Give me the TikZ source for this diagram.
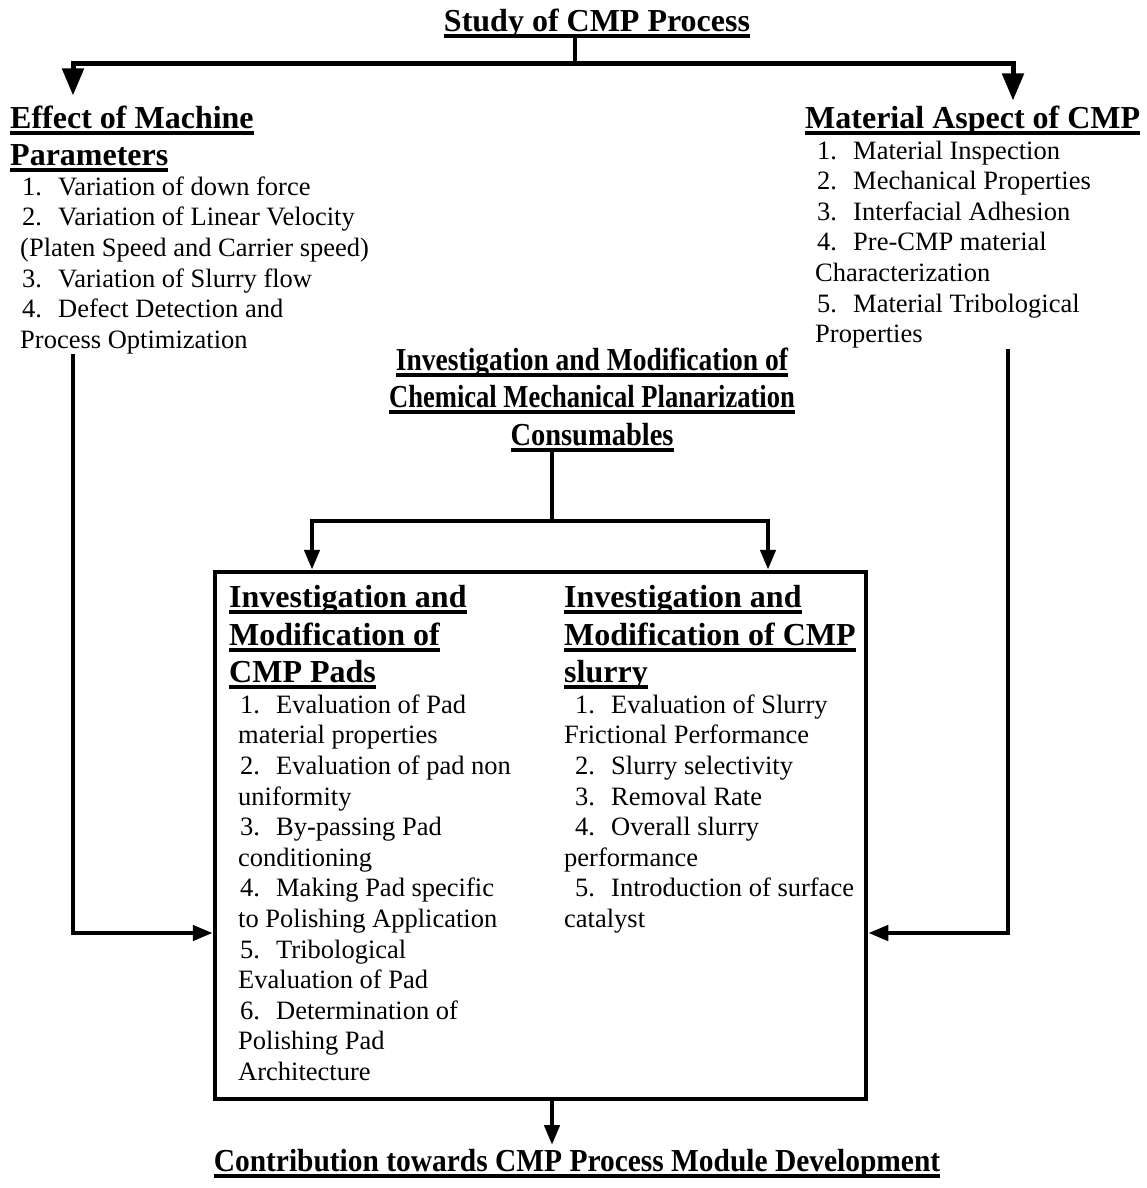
\documentclass[tikz,border=0pt]{standalone}
\usepackage{fontspec}
\setmainfont{Liberation Serif}
\usetikzlibrary{arrows.meta}

\newcommand{\headul}[1]{\setbox0\hbox{#1}\rlap{\rule[-0.2em]{\wd0}{0.12em}}\box0}
\newcommand{\nm}[1]{\makebox[36pt][l]{#1}}
\newcommand{\narrow}[2][0.85]{\scalebox{#1}[1]{\headul{#2}}}

\tikzset{
    heading/.style={font=\fontsize{32}{37.5}\selectfont\bfseries, align=left, inner sep=0pt, anchor=north west},
    items/.style={font=\fontsize{26.5}{30.6}\selectfont, align=left, inner sep=0pt, anchor=north west},
    wire/.style={line width=4.5pt},
    link/.style={line width=4.5pt, -{Triangle[width=15pt,length=20pt]}},
    bigtip/.style={line width=5pt, -{Triangle[width=21pt,length=27pt]}},
}

\begin{document}
\begin{tikzpicture}[x=1pt, y=-1pt]
    \useasboundingbox (0,0) rectangle (1147,1188);

    % headings
    \node[heading, anchor=north] (title) at (597,8.5) {\headul{Study of CMP Process}};
    \node[heading] (effect) at (10,105.5) {\headul{Effect of Machine}\\\headul{Parameters}};
    \node[heading] (material) at (805,105.5) {\headul{Material Aspect of CMP}};
    \node[heading, anchor=north, align=center] (consum) at (592,347.5)
        {\narrow[0.86]{Investigation and Modification of}\\\narrow[0.83]{Chemical Mechanical Planarization}\\\narrow[0.89]{Consumables}};

    % lists
    \node[items] (machine) at (20,176.5) {%
        \hspace*{2pt}\nm{1.}Variation of down force\\
        \hspace*{2pt}\nm{2.}Variation of Linear Velocity\\
        (Platen Speed and Carrier speed)\\
        \hspace*{2pt}\nm{3.}Variation of Slurry flow\\
        \hspace*{2pt}\nm{4.}Defect Detection and\\
        Process Optimization};
    \node[items] (matlist) at (815,140.5) {%
        \hspace*{2pt}\nm{1.}Material Inspection\\
        \hspace*{2pt}\nm{2.}Mechanical Properties\\
        \hspace*{2pt}\nm{3.}Interfacial Adhesion\\
        \hspace*{2pt}\nm{4.}Pre-CMP material\\
        Characterization\\
        \hspace*{2pt}\nm{5.}Material Tribological\\
        Properties};

    % consumables box
    \node[draw, line width=4.5pt, minimum width=651pt, minimum height=527pt, inner sep=0pt] (cmpbox) at (540.5,835.5) {};
    \node[heading] (pads) at (229,585.5) {\headul{Investigation and}\\\headul{Modification of}\\\headul{CMP Pads}};
    \node[heading] (slurry) at (564,585.5) {\headul{Investigation and}\\\headul{Modification of CMP}\\\headul{slurry}};
    \node[items] (padlist) at (238,694.5) {%
        \hspace*{2pt}\nm{1.}Evaluation of Pad\\
        material properties\\
        \hspace*{2pt}\nm{2.}Evaluation of pad non\\
        uniformity\\
        \hspace*{2pt}\nm{3.}By-passing Pad\\
        conditioning\\
        \hspace*{2pt}\nm{4.}Making Pad specific\\
        to Polishing Application\\
        \hspace*{2pt}\nm{5.}Tribological\\
        Evaluation of Pad\\
        \hspace*{2pt}\nm{6.}Determination of\\
        Polishing Pad\\
        Architecture};
    \node[items] (slurlist) at (564,694.5) {%
        \hspace*{11pt}\nm{1.}Evaluation of Slurry\\
        Frictional Performance\\
        \hspace*{11pt}\nm{2.}Slurry selectivity\\
        \hspace*{11pt}\nm{3.}Removal Rate\\
        \hspace*{11pt}\nm{4.}Overall slurry\\
        performance\\
        \hspace*{11pt}\nm{5.}Introduction of surface\\
        catalyst};

    \node[heading, anchor=north] (contrib) at (577,1149) {\narrow[0.92]{Contribution towards CMP Process Module Development}};

    % connectors
    \coordinate (tstem) at (575,36);
    \coordinate (tbus) at (575,64);
    \coordinate (lbus) at (73,64);
    \coordinate (rbus) at (1013,64);
    \draw[wire] (tstem) -- (tbus);
    \draw[bigtip] (tbus) -- (lbus) -- ([yshift=10pt]lbus |- effect.north);
    \draw[bigtip] (tbus) -- (rbus) -- ([yshift=5pt]rbus |- material.north);

    \coordinate (lfeed) at (73,933);
    \coordinate (rfeed) at (1008,933);
    \draw[link] (machine.south -| lfeed) -- (lfeed) -- (lfeed -| cmpbox.west);
    \draw[link] (matlist.south -| rfeed) -- (rfeed) -- (rfeed -| cmpbox.east);

    \coordinate (mbus) at (552,521);
    \coordinate (pbus) at (312,521);
    \coordinate (sbus) at (768,521);
    \draw[wire] (consum.south -| mbus) -- (mbus);
    \draw[link] (mbus) -- (pbus) -- (pbus |- cmpbox.north);
    \draw[link] (mbus) -- (sbus) -- (sbus |- cmpbox.north);

    \coordinate (ctip) at (552,1145);
    \draw[link] (cmpbox.south -| ctip) -- (ctip);
\end{tikzpicture}
\end{document}
